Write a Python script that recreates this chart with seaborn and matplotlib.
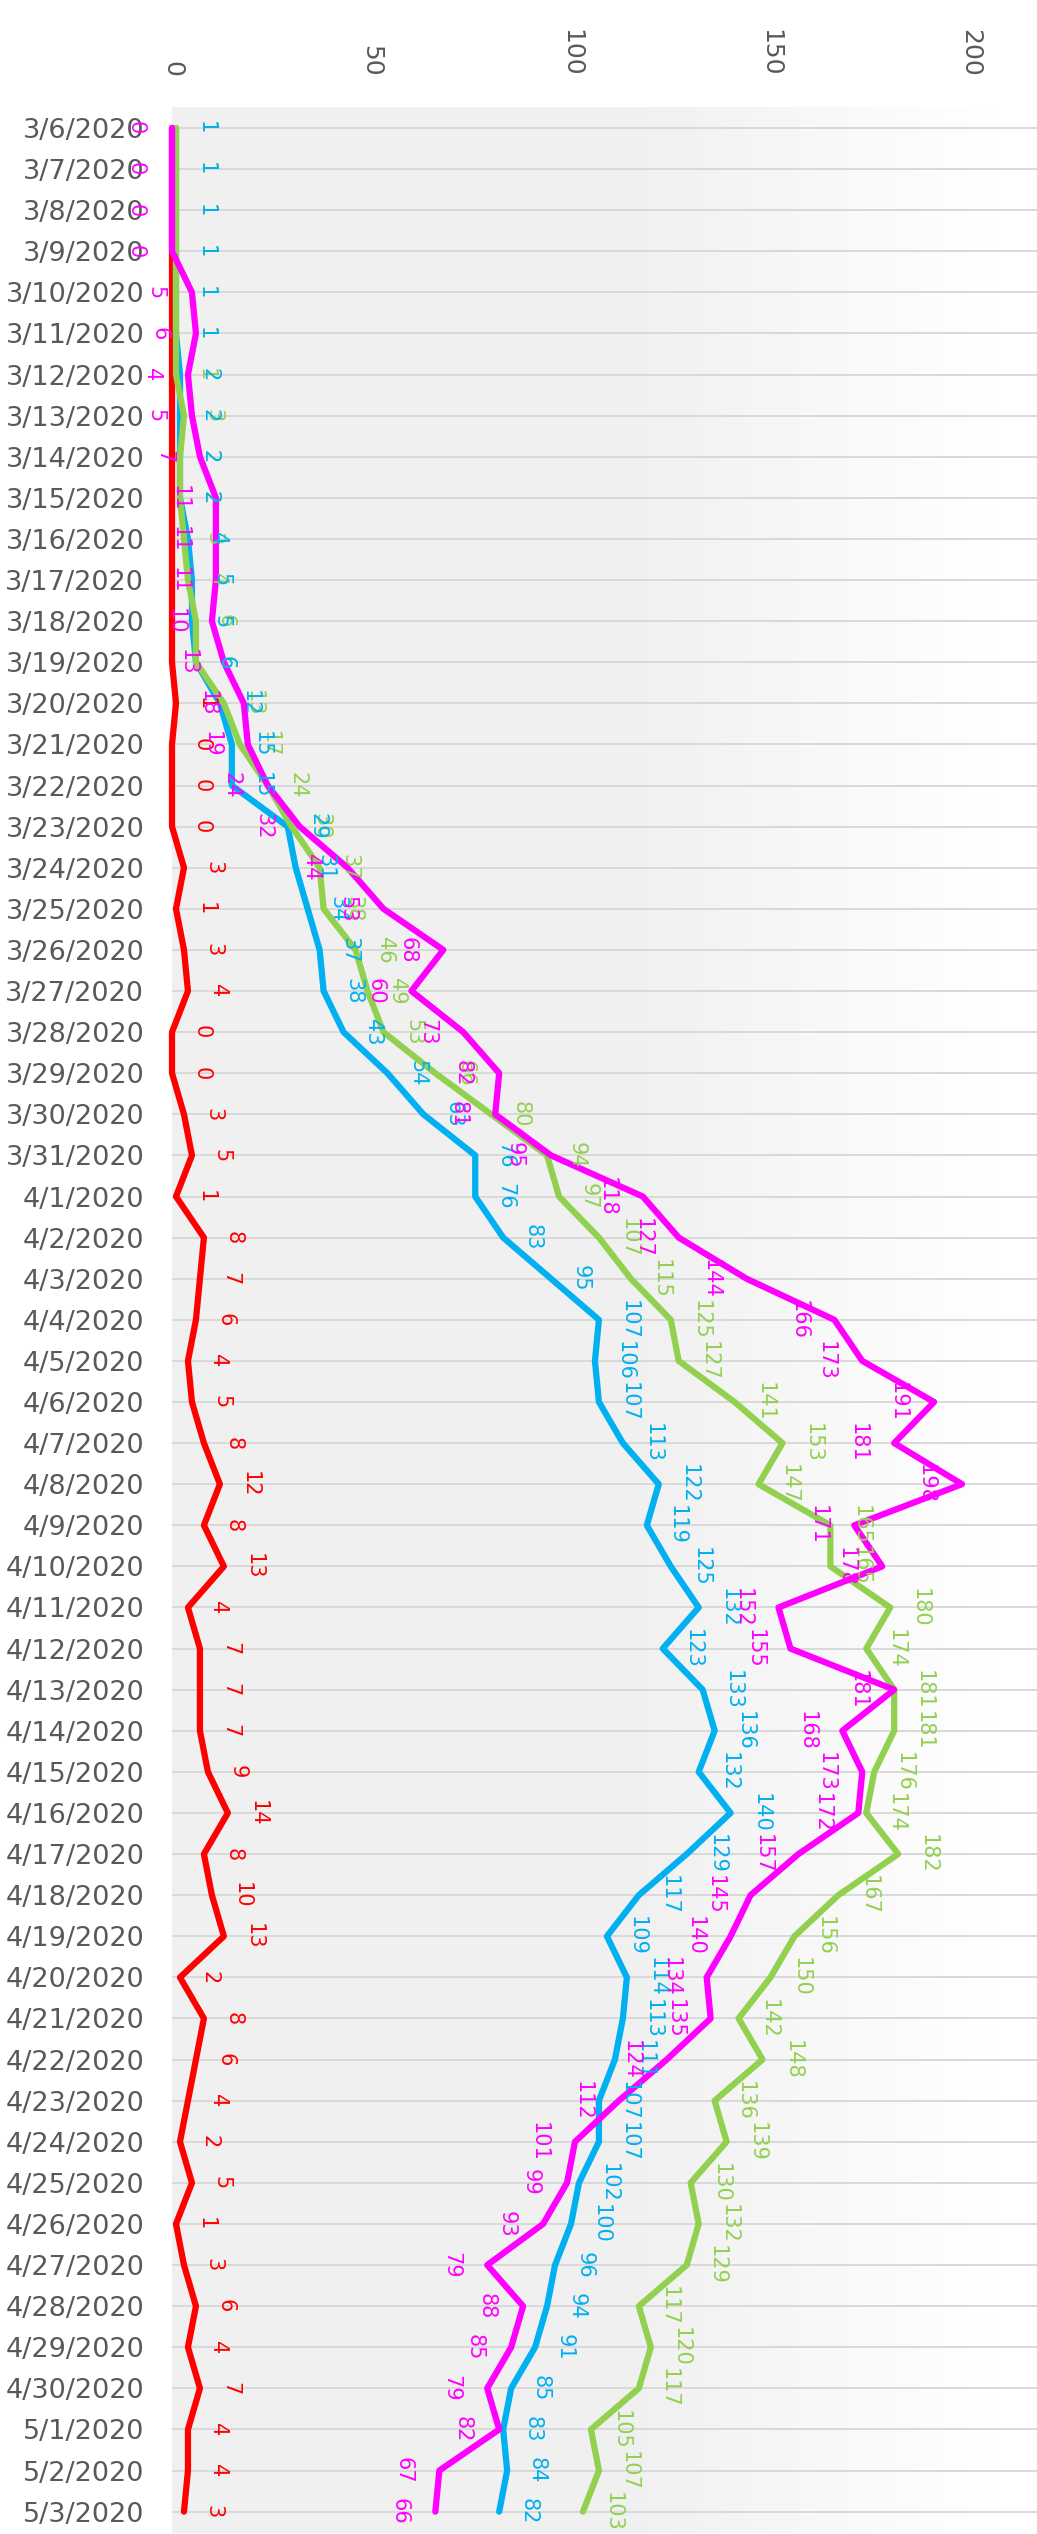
import numpy as np
import pandas as pd
import matplotlib
matplotlib.use("Agg")
import matplotlib.pyplot as plt
import seaborn as sns

dates = [f"{d.month}/{d.day}/{d.year}" for d in pd.date_range("2020-03-06", "2020-05-03")]

red = [0, 0, 0, 0, 0, 0, 0, 0, 0, 0, 0, 0, 0, 0,
       1, 0, 0, 0, 3, 1, 3, 4, 0, 0, 3, 5, 1, 8, 7, 6, 4, 5, 8, 12, 8, 13, 4, 7, 7, 7,
       9, 14, 8, 10, 13, 2, 8, 6, 4, 2, 5, 1, 3, 6, 4, 7, 4, 4, 3]
magenta = [0, 0, 0, 0, 5, 6, 4, 5, 7, 11, 11, 11, 10, 13, 18, 19, 24, 32, 44, 53,
           68, 60, 73, 82, 81, 95, 118, 127, 144, 166, 173, 191, 181, 198, 171, 178,
           152, 155, 181, 168, 173, 172, 157, 145, 140, 134, 135, 124, 112, 101, 99,
           93, 79, 88, 85, 79, 82, 67, 66]
cyan = [1, 1, 1, 1, 1, 1, 2, 2, 2, 2, 4, 5, 5, 6, 12, 15, 15, 29, 31, 34, 37, 38,
        43, 54, 63, 76, 76, 83, 95, 107, 106, 107, 113, 122, 119, 125, 132, 123, 133,
        136, 132, 140, 129, 117, 109, 114, 113, 111, 107, 107, 102, 100, 96, 94, 91,
        85, 83, 84, 82]
green = [1, 1, 1, 1, 1, 1, 1, 3, 2, 2, 3, 4, 6, 6, 13, 17, 24, 30, 37, 38, 46, 49,
         53, 66, 80, 94, 97, 107, 115, 125, 127, 141, 153, 147, 165, 165, 180, 174,
         181, 181, 176, 174, 182, 167, 156, 150, 142, 148, 136, 139, 130, 132, 129,
         117, 120, 117, 105, 107, 103]

x_ticks = [0, 50, 100, 150, 200]

C_RED = "#ff0000"
C_MAG = "#ff00ff"
C_CYAN = "#00b0f0"
C_GREEN = "#92d050"
TXT = "#595959"

sns.set_style("white")
plt.rcParams["font.family"] = ["DejaVu Sans"]

W, H = 1037, 2534
fig = plt.figure(figsize=(W / 100, H / 100), dpi=100)
ax = fig.add_axes([172 / W, 1 / H, (W - 172) / W, (2533 - 107) / H])

idx = np.arange(len(dates))
xmax = (W - 172) / 3.99
ax.set_xlim(0, xmax)
ax.set_ylim(58.52, -0.51)

# background gradient
xs = np.linspace(0, 1, 200)
vals = np.where(xs < 0.55, 0.945, 0.945 + (xs - 0.55) / 0.4 * 0.055)
vals = np.clip(vals, 0, 1)
img = np.dstack([vals, vals, vals])
img = np.repeat(img, 2, axis=0)
ax.imshow(img, extent=(0, xmax, 58.52, -0.51), aspect="auto", zorder=0,
          interpolation="bilinear")

# grid lines
for i in idx:
    ax.axhline(i, color="#d9d9d9", lw=1.4, zorder=1)

series = [(red, C_RED), (cyan, C_CYAN), (green, C_GREEN), (magenta, C_MAG)]
for vals_, col in series:
    sns.lineplot(x=vals_, y=idx, orient="y", sort=False, color=col, lw=4.5,
                 ax=ax, zorder=3, clip_on=False)

def label(vals_, col, dx, start=0):
    for i, v in enumerate(vals_):
        if i < start:
            continue
        ax.annotate(str(v), (v, i), xytext=(dx, 0), textcoords="offset points",
                    rotation=-90, ha="center", va="center", color=col,
                    fontsize=15, zorder=5, annotation_clip=False)

label(red, C_RED, 21.5, start=14)
label(green, C_GREEN, 21.5)
label(cyan, C_CYAN, 21.5)
label(magenta, C_MAG, -26)

ax.xaxis.tick_top()
ax.set_xticks(x_ticks)
ax.set_xticklabels([str(t) for t in x_ticks], rotation=-90, fontsize=18, color=TXT)
ax.tick_params(axis="x", length=0, pad=22)
ax.set_yticks(idx)
ax.set_yticklabels(dates, fontsize=19.5, color=TXT)
ax.tick_params(axis="y", length=0, pad=20)
ax.set_xlabel("")
ax.set_ylabel("")
for s in ax.spines.values():
    s.set_visible(False)
if ax.get_legend():
    ax.get_legend().remove()

fig.savefig("out.png", dpi=100, facecolor="white")
